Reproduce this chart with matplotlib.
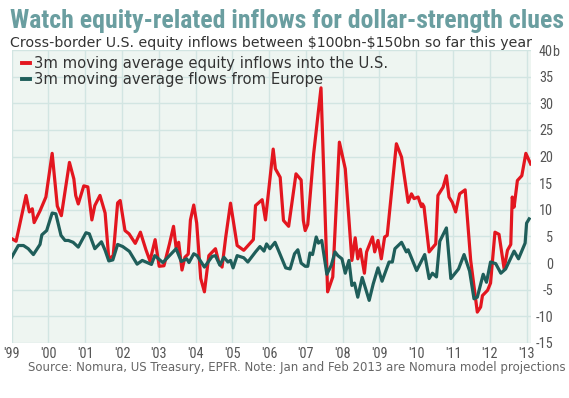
import matplotlib
matplotlib.use("Agg")
import matplotlib.pyplot as plt
from matplotlib import font_manager as fm

# 3m moving average equity inflows into the U.S. ($bn)
us_years = [1999.00, 1999.12, 1999.39, 1999.48, 1999.56, 1999.61, 1999.77, 1999.93,
            2000.10, 2000.24, 2000.35, 2000.57, 2000.69, 2000.74, 2000.81, 2000.96,
            2001.07, 2001.18, 2001.26, 2001.40, 2001.54, 2001.64, 2001.76, 2001.88,
            2001.95, 2002.08, 2002.19, 2002.36, 2002.50, 2002.65, 2002.76, 2002.90,
            2003.01, 2003.14, 2003.29, 2003.40, 2003.47, 2003.54, 2003.63, 2003.71,
            2003.80, 2003.86, 2003.95, 2004.03, 2004.14, 2004.24, 2004.36, 2004.54,
            2004.63, 2004.72, 2004.82, 2004.95, 2005.13, 2005.31, 2005.57, 2005.63,
            2005.81, 2005.90, 2006.11, 2006.17, 2006.30, 2006.39, 2006.53, 2006.73,
            2006.87, 2006.93, 2006.98, 2007.05, 2007.21, 2007.41, 2007.59, 2007.73,
            2007.91, 2008.07, 2008.25, 2008.34, 2008.41, 2008.48, 2008.59, 2008.65,
            2008.81, 2008.87, 2008.96, 2009.05, 2009.14, 2009.21, 2009.46, 2009.60,
            2009.78, 2009.87, 2009.94, 2010.05, 2010.14, 2010.17, 2010.21, 2010.35,
            2010.53, 2010.59, 2010.73, 2010.82, 2010.89, 2010.98, 2011.07, 2011.18,
            2011.33, 2011.48, 2011.66, 2011.75, 2011.80, 2011.94, 2012.02, 2012.14,
            2012.25, 2012.39, 2012.48, 2012.57, 2012.61, 2012.66, 2012.75, 2012.87,
            2012.98, 2013.11]
us_vals = [4.6, 4.1, 12.7, 9.6, 10.2, 7.6, 9.8, 12.4,
           20.6, 10.7, 8.9, 18.9, 15.8, 12.7, 11.1, 14.5,
           14.3, 8.1, 10.8, 12.7, 9.4, 0.8, 1.4, 11.3,
           11.75, 6.1, 5.5, 3.7, 5.8, 2.5, 0.4, 4.4,
           -0.6, -0.5, 3.6, 6.9, 2.9, 3.9, -1.3, 1.1,
           1.7, 8.1, 10.9, 7.5, -2.9, -5.4, 1.4, 2.7,
           0.2, -0.75, 4.9, 11.25, 3.3, 2.4, 4.4, 10.8,
           11.9, 8.1, 21.4, 17.7, 16.1, 8.0, 6.9, 16.75,
           15.6, 8.0, 6.1, 7.25, 20.5, 32.9, -5.4, -2.6,
           22.7, 17.7, 0.5, 4.75, 0.8, 2.6, -1.9, 2.1,
           4.9, 2.1, 4.25, 0.8, 4.9, 5.2, 22.4, 19.9,
           11.4, 13.0, 12.1, 12.4, 10.6, 11.1, 10.6, 2.1,
           3.6, 12.7, 14.25, 16.4, 12.4, 11.4, 9.6, 13.0,
           13.75, 0.5, -9.2, -8.25, -6.1, -5.1, -3.75, 5.8,
           5.4, -1.1, 2.4, 3.5, 12.4, 10.5, 15.5, 16.4,
           20.6, 18.6]

# 3m moving average flows from Europe ($bn)
eu_years = [1999.00, 1999.18, 1999.32, 1999.45, 1999.59, 1999.77, 1999.82, 1999.95,
            2000.10, 2000.20, 2000.34, 2000.45, 2000.54, 2000.67, 2000.81, 2001.02,
            2001.11, 2001.26, 2001.44, 2001.54, 2001.64, 2001.75, 2001.88, 2002.02,
            2002.20, 2002.41, 2002.55, 2002.80, 2002.89, 2003.11, 2003.47, 2003.61,
            2003.76, 2003.82, 2003.95, 2004.04, 2004.24, 2004.45, 2004.54, 2004.66,
            2004.77, 2004.88, 2004.95, 2005.02, 2005.13, 2005.31, 2005.42, 2005.63,
            2005.75, 2005.86, 2005.93, 2006.02, 2006.16, 2006.27, 2006.45, 2006.57,
            2006.69, 2006.78, 2006.87, 2006.98, 2007.05, 2007.11, 2007.18, 2007.28,
            2007.34, 2007.43, 2007.57, 2007.69, 2007.79, 2007.87, 2007.98, 2008.07,
            2008.17, 2008.25, 2008.32, 2008.41, 2008.53, 2008.72, 2008.83, 2008.96,
            2009.07, 2009.26, 2009.35, 2009.42, 2009.60, 2009.73, 2009.78, 2010.01,
            2010.23, 2010.35, 2010.44, 2010.55, 2010.64, 2010.82, 2010.94, 2011.15,
            2011.30, 2011.45, 2011.57, 2011.66, 2011.82, 2011.91, 2012.02, 2012.16,
            2012.30, 2012.43, 2012.54, 2012.66, 2012.78, 2012.96, 2013.00, 2013.07]
eu_vals = [1.1, 3.3, 3.3, 2.7, 1.6, 3.5, 5.3, 6.1,
           9.4, 9.25, 5.2, 4.25, 4.25, 3.9, 3.0, 5.7,
           5.5, 2.7, 4.0, 2.4, 0.4, 0.6, 3.5, 3.1,
           2.2, -0.2, 0.5, -0.25, 1.4, 0.1, 2.7, 0.3,
           0.8, 0.1, 1.75, 1.4, -0.75, 1.25, 1.4, -0.4,
           1.1, 0.2, 0.5, -0.9, 1.4, 1.0, 0.2, 2.1,
           3.1, 2.25, 3.6, 2.7, 3.9, 2.1, -0.9, -1.1,
           1.75, 2.5, 0.0, -0.6, -0.6, 1.9, 1.6, 4.9,
           3.75, 4.25, -2.1, -0.4, 2.1, 1.4, 0.8, -1.9,
           0.5, -4.2, -3.75, -6.4, -2.7, -7.0, -3.9, -0.9,
           -3.4, 0.2, 0.2, 2.7, 3.9, 2.1, 2.5, -1.4,
           1.6, -2.9, -1.9, -2.6, 4.1, 6.6, -2.9, -1.1,
           1.6, -1.5, -6.7, -6.4, -2.1, -3.6, 0.2, -0.1,
           -1.9, -1.1, 0.5, 2.25, 0.8, 3.75, 7.5, 8.3]

year_ticks = list(range(1999, 2014))
year_labels = ["'99", "'00", "'01", "'02", "'03", "'04", "'05", "'06",
               "'07", "'08", "'09", "'10", "'11", "'12", "'13"]
value_ticks = list(range(-15, 45, 5))

title = "Watch equity-related inflows for dollar-strength clues"
subtitle = r"Cross-border U.S. equity inflows between \$100bn-\$150bn so far this year"
source = "Source: Nomura, US Treasury, EPFR. Note: Jan and Feb 2013 are Nomura model projections"

# pick a condensed face if one is installed
names = {f.name for f in fm.fontManager.ttflist}
condensed = [f.name for f in fm.fontManager.ttflist
             if f.stretch in ('condensed', 'semi-condensed', 'extra-condensed', 600, 500)
             or 'Narrow' in f.name or 'Condensed' in f.name]
narrow_kw = {'family': ['Liberation Sans', 'DejaVu Sans']}
if 'Liberation Sans Narrow' in names:
    narrow_kw = {'family': ['Liberation Sans Narrow', 'DejaVu Sans']}
elif 'Roboto Condensed' in names:
    narrow_kw = {'family': ['Roboto Condensed', 'DejaVu Sans']}
elif any(n == 'DejaVu Sans' for n in condensed):
    narrow_kw = {'family': ['DejaVu Sans'], 'stretch': 'condensed'}

plt.rcParams['font.family'] = ['DejaVu Sans']

W, H = 569, 398
fig = plt.figure(figsize=(W / 100, H / 100), dpi=100)
ax = fig.add_axes([11.7 / W, 1 - 343 / H, (531 - 11.7) / W, (343 - 50) / H])
ax.set_facecolor('#eef5f1')
for s in ax.spines.values():
    s.set_visible(False)

ax.plot(us_years, us_vals, color='#e3161f', lw=2.3,
        label='3m moving average equity inflows into the U.S.')
ax.plot(eu_years, eu_vals, color='#1f5e5a', lw=2.3,
        label='3m moving average flows from Europe')

ax.set_xlim(1999.0, 2013.12)
ax.set_ylim(-15, 40)
ax.set_xticks(year_ticks)
ax.set_xticklabels(year_labels)
ax.set_yticks(value_ticks)
ax.set_yticklabels([str(v) for v in value_ticks])
ax.yaxis.tick_right()
ax.grid(True, color='#d2e5e2', lw=1)
ax.set_axisbelow(True)
ax.tick_params(length=0, labelcolor='#555555', labelsize=10.3)
ax.tick_params(axis='x', pad=3)
ax.tick_params(axis='y', pad=15.8)
for lbl in ax.get_xticklabels() + ax.get_yticklabels():
    lbl.set(**narrow_kw)
for lbl in ax.get_yticklabels():
    lbl.set_ha('right')
ax.annotate('b', xy=(1, 40), xycoords=ax.get_yaxis_transform(),
            xytext=(15.0, 0), textcoords='offset points', ha='left',
            va='center_baseline', fontsize=10.3, color='#555555', **narrow_kw)

leg = ax.legend(loc='upper left', bbox_to_anchor=(0.008, 1.0), frameon=False,
                fontsize=10.6, handlelength=0.55, handletextpad=0.25,
                labelspacing=0.1, borderaxespad=0.0, labelcolor='#333333')
for h in leg.get_lines():
    h.set_linewidth(2.8)

t_title = fig.text(10 / W, 1 - 28 / H, title, ha='left', va='baseline', fontsize=18,
                   weight='bold', color='#6a9ea0', **narrow_kw)
t_sub = fig.text(10 / W, 1 - 47 / H, subtitle, ha='left', va='baseline',
                 fontsize=10, color='#333333')
t_src = fig.text(566 / W, 1 - 371 / H, source, ha='right', va='baseline',
                 fontsize=8.4, color='#666666')

# scale the header and footer to the widths they take in the original
renderer = fig.canvas.get_renderer()
for txt, width in ((t_title, 554), (t_sub, 517), (t_src, 534)):
    w = txt.get_window_extent(renderer).width
    txt.set_fontsize(txt.get_fontsize() * width / w)

fig.savefig('out.png', dpi=100)
